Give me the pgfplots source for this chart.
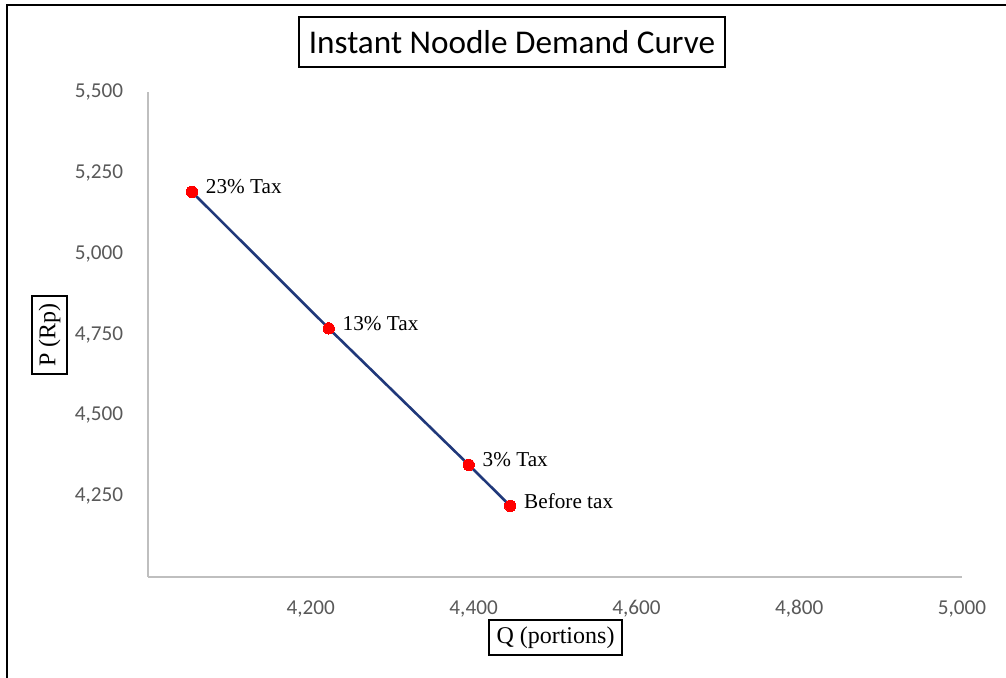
\documentclass[border=0pt]{standalone}
\usepackage{pgfplots}
\pgfplotsset{compat=1.18}
\usepackage{pgfplotstable}
\usepackage{fontspec}
\setmainfont{Liberation Serif}
\newfontfamily\calibri{Carlito}

\definecolor{curve}{RGB}{32,56,122}
\definecolor{ticktext}{RGB}{89,89,89}
\definecolor{axisgray}{RGB}{191,191,191}

% quantity demanded (portions) and price (Rp) at each tax level
\pgfplotstableread[col sep=comma]{
q,p,label
4054,5191,23\% Tax
4222,4769,13\% Tax
4394,4347,3\% Tax
4445,4220,Before tax
}\demand

\begin{document}
\begin{tikzpicture}
\useasboundingbox (0,0) rectangle (503bp,339bp);
% chart frame
\draw[line width=1bp] (3.3bp,0) -- (3.3bp,336.4bp) -- (503bp,336.4bp);

\begin{axis}[
  at={(74bp,50.5bp)}, anchor=south west,
  scale only axis, width=407bp, height=242.5bp,
  xmin=4000, xmax=5000, ymin=4000, ymax=5500,
  axis x line=bottom, axis y line=left,
  axis line style={draw=axisgray, line width=0.9bp, -},
  xtick={4200,4400,...,5000}, ytick={4250,4500,...,5500},
  tick style={draw=none},
  ticklabel style={font=\calibri\fontsize{10.6bp}{12bp}\selectfont, text=ticktext},
  /pgf/number format/assume math mode=true,
  /pgf/number format/1000 sep={,},
  xticklabel style={yshift=-6bp},
  yticklabel style={xshift=-6.8bp},
  clip=false,
]
\addplot[curve, line width=1.3bp, mark=*, mark size=2.85bp,
  mark options={draw=red, fill=red, line width=0bp},
  nodes near coords, point meta=explicit symbolic,
  every node near coord/.append style={anchor=west, text=black, inner sep=0pt,
    font=\fontsize{10.6bp}{12bp}\selectfont, xshift=7bp, yshift=2.5bp}]
  table[x=q, y=p, meta=label] {\demand};
\end{axis}

% chart title and axis titles
\node[draw, line width=0.75bp, minimum width=213bp, minimum height=25bp, inner sep=0pt,
  font=\calibri\fontsize{16.6bp}{20bp}\selectfont] at (256bp,318bp) {Instant Noodle Demand Curve};
\node[draw, line width=0.65bp, minimum width=66.5bp, minimum height=17.5bp, inner sep=0pt,
  font=\fontsize{12bp}{14bp}\selectfont] at (277.75bp,20.25bp) {Q (portions)};
\node[draw, line width=0.65bp, rotate=90, minimum width=39bp, minimum height=17.5bp, inner sep=0pt,
  font=\fontsize{12bp}{14bp}\selectfont] at (24.75bp,171.5bp) {P (Rp)};
\end{tikzpicture}
\end{document}
